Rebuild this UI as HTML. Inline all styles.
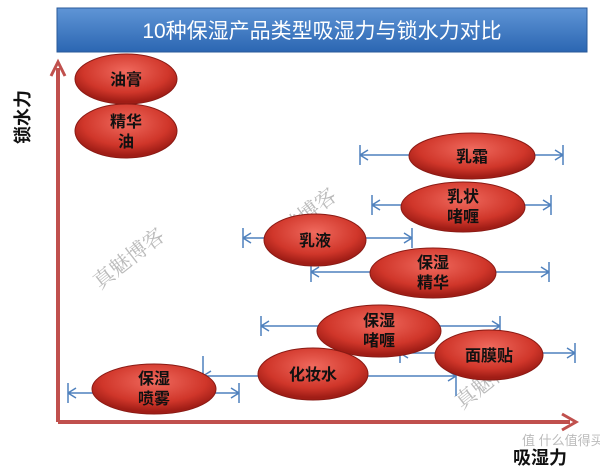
<!DOCTYPE html>
<html><head><meta charset="utf-8"><style>
body{margin:0;background:#fff;}
svg{display:block;font-family:"Liberation Sans","Noto Sans CJK SC",sans-serif;}
.t{font-weight:bold;font-size:16px;fill:#111;text-anchor:middle;}
.l{stroke:#4f81bd;stroke-width:1.5;fill:none;}
.w{fill:#aaa;font-size:21px;font-family:"Noto Serif CJK SC",serif;opacity:.8}
</style></head><body>
<svg width="600" height="475" viewBox="0 0 600 475">
<defs>
<radialGradient id="r" cx="50%" cy="35%" r="60%">
<stop offset="0" stop-color="#f06a5e"/><stop offset="0.7" stop-color="#d0362a"/><stop offset="1" stop-color="#a01d16"/>
</radialGradient>
<linearGradient id="b" x1="0" y1="0" x2="0" y2="1">
<stop offset="0" stop-color="#5f95d6"/><stop offset="1" stop-color="#2b66b2"/>
</linearGradient>
</defs>
<rect x="57" y="8" width="530" height="44" fill="url(#b)" stroke="#2a5a9a"/>
<text x="322" y="38" font-size="21" fill="#fff" text-anchor="middle">10种保湿产品类型吸湿力与锁水力对比</text>
<path d="M58,422 L58,68" stroke="#c0504d" stroke-width="4"/>
<path d="M51,76 L58,62 L65,76" stroke="#c0504d" stroke-width="3" fill="none"/>
<path d="M58,422 L570,422" stroke="#c0504d" stroke-width="4"/>
<path d="M562,414 L576,422 L562,430" stroke="#c0504d" stroke-width="3" fill="none"/>
<text x="0" y="0" font-size="18" font-weight="bold" fill="#111" text-anchor="middle" transform="translate(29,117) rotate(-90)">锁水力</text>
<text x="540" y="464" font-size="18" font-weight="bold" fill="#111" text-anchor="middle">吸湿力</text>
<text class="w" x="100" y="290" transform="rotate(-38 100 290)">真魅博客</text>
<text class="w" x="272" y="250" transform="rotate(-38 272 250)">真魅博客</text>
<text class="w" x="462" y="410" transform="rotate(-38 462 410)">真魅博客</text>
<text x="522" y="445" font-size="13" fill="#bbb">值 什么值得买</text>
<g class="l">
<path d="M360,155H563M360,145V165M563,145V165M360,155l8,-5M360,155l8,5M563,155l-8,-5M563,155l-8,5"/>
<path d="M372,205H551M372,195V215M551,195V215M372,205l8,-5M372,205l8,5M551,205l-8,-5M551,205l-8,5"/>
<path d="M243,238H412M243,228V248M412,228V248M243,238l8,-5M243,238l8,5M412,238l-8,-5M412,238l-8,5"/>
<path d="M311,272H549M311,262V282M549,262V282M311,272l8,-5M311,272l8,5M549,272l-8,-5M549,272l-8,5"/>
<path d="M261,326H500M261,316V336M500,316V336M261,326l8,-5M261,326l8,5M500,326l-8,-5M500,326l-8,5"/>
<path d="M400,353H575M400,343V363M575,343V363M400,353l8,-5M400,353l8,5M575,353l-8,-5M575,353l-8,5"/>
<path d="M203,376H456M203,356V386M456,366V396M203,376l8,-5M203,376l8,5M456,376l-8,-5M456,376l-8,5"/>
<path d="M68,393H239M68,383V403M239,383V403M68,393l8,-5M68,393l8,5M239,393l-8,-5M239,393l-8,5"/>
</g>
<g fill="url(#r)" stroke="#8a1a14" stroke-width="1">
<ellipse cx="126" cy="79" rx="51" ry="25"/>
<ellipse cx="126" cy="131" rx="51" ry="27"/>
<ellipse cx="472" cy="156" rx="63" ry="23"/>
<ellipse cx="463" cy="207" rx="62" ry="25"/>
<ellipse cx="315" cy="240" rx="51" ry="26"/>
<ellipse cx="433" cy="273" rx="63" ry="25"/>
<ellipse cx="379" cy="331" rx="62" ry="26"/>
<ellipse cx="489" cy="355" rx="54" ry="25"/>
<ellipse cx="313" cy="374" rx="55" ry="26"/>
<ellipse cx="154" cy="389" rx="62" ry="25"/>
</g>
<text class="t" x="126" y="85">油膏</text>
<text class="t" x="126" y="127">精华</text><text class="t" x="126" y="147">油</text>
<text class="t" x="472" y="162">乳霜</text>
<text class="t" x="463" y="202">乳状</text><text class="t" x="463" y="222">啫喱</text>
<text class="t" x="315" y="246">乳液</text>
<text class="t" x="433" y="268">保湿</text><text class="t" x="433" y="288">精华</text>
<text class="t" x="379" y="326">保湿</text><text class="t" x="379" y="346">啫喱</text>
<text class="t" x="489" y="361">面膜贴</text>
<text class="t" x="313" y="380">化妆水</text>
<text class="t" x="154" y="384">保湿</text><text class="t" x="154" y="404">喷雾</text>
</svg>
</body></html>
